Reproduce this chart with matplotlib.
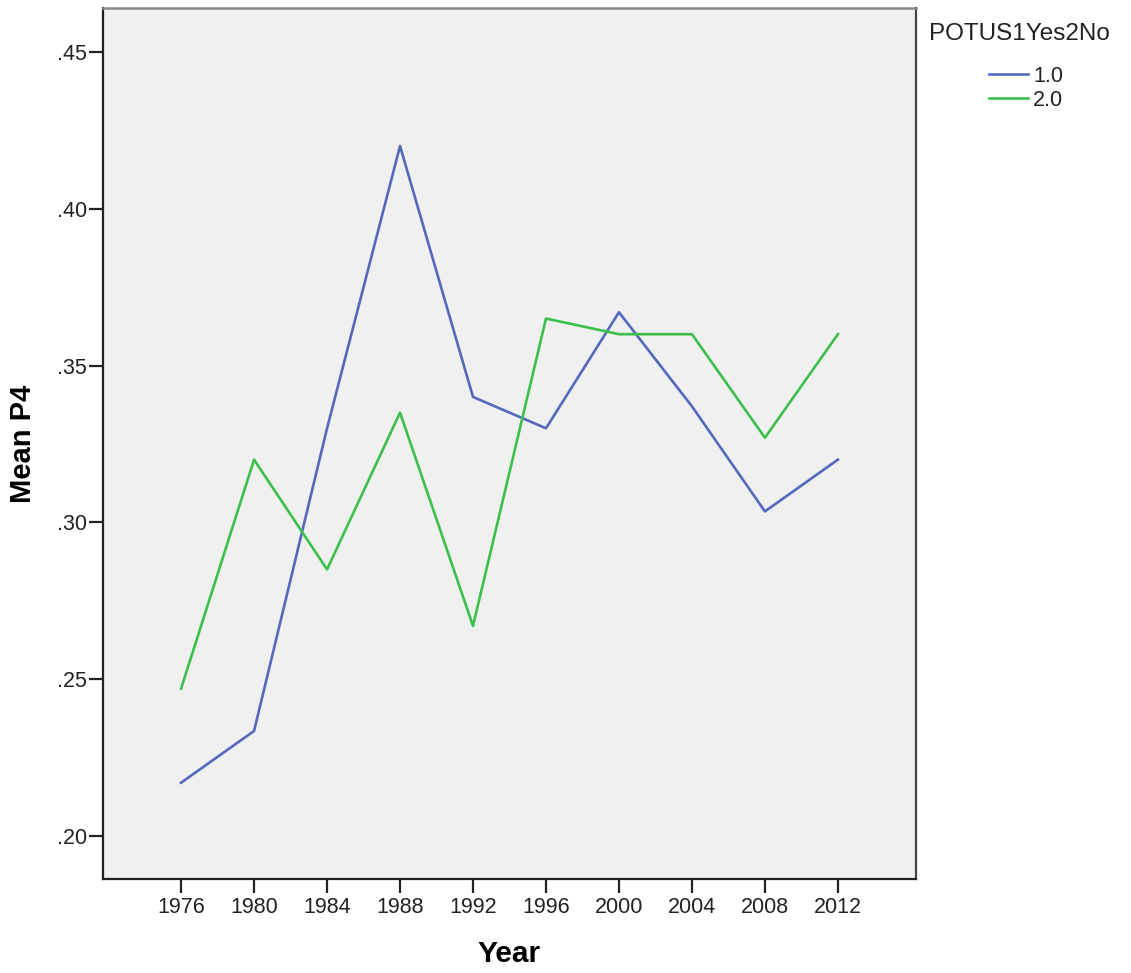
import matplotlib
matplotlib.use('Agg')
import matplotlib.pyplot as plt
from matplotlib.ticker import FuncFormatter

plt.rcParams['font.family'] = ['Liberation Sans', 'DejaVu Sans']

years = ['1976', '1980', '1984', '1988', '1992', '1996', '2000', '2004', '2008', '2012']
potus_yes = [0.217, 0.2335, 0.330, 0.420, 0.340, 0.330, 0.367, 0.337, 0.3035, 0.320]
potus_no = [0.247, 0.320, 0.285, 0.335, 0.267, 0.365, 0.360, 0.360, 0.327, 0.360]
series_labels = ['1.0', '2.0']
y_ticks = [0.20, 0.25, 0.30, 0.35, 0.40, 0.45]

BLUE = '#5468BE'
GREEN = '#3CC04B'
INK = '#222222'

fig = plt.figure(figsize=(11.31, 9.73), dpi=100)
ax = fig.add_axes([103 / 1131, 1 - 879 / 973, (916 - 103) / 1131, (879 - 8) / 973])
ax.set_facecolor('#F0F0F0')

xs = list(range(len(years)))
l1, = ax.plot(xs, potus_yes, color=BLUE, lw=1.9)
l2, = ax.plot(xs, potus_no, color=GREEN, lw=1.9)

ax.set_xlim(-1.07, 10.07)
ax.set_ylim(0.1863, 0.464)
ax.set_xticks(xs)
ax.set_xticklabels(years)
ax.set_yticks(y_ticks)
ax.yaxis.set_major_formatter(FuncFormatter(lambda v, p: ('%.2f' % v).lstrip('0')))

ax.tick_params(axis='both', direction='out', length=10, width=1.6,
               labelsize=15.5, colors=INK, pad=1.5)
ax.tick_params(axis='x', pad=3)

for side in ('left', 'bottom'):
    ax.spines[side].set_color(INK)
    ax.spines[side].set_linewidth(1.6)
ax.spines['top'].set_color('#888888')
ax.spines['top'].set_linewidth(1.8)
ax.spines['right'].set_color('#444444')
ax.spines['right'].set_linewidth(1.6)

ax.set_xlabel('Year', fontsize=21.5, fontweight='bold', labelpad=16)
ax.set_ylabel('Mean P4', fontsize=21, fontweight='bold', labelpad=14)

# legend: title as plain text, entries centred below it
fig.text(929 / 1131, 1 - 34 / 973, 'POTUS1Yes2No', fontsize=17.5, color=INK,
         ha='left', va='center')
leg = fig.legend([l1, l2], series_labels,
                 loc='upper left', bbox_to_anchor=(989 / 1131, 1 - 66 / 973),
                 frameon=False, fontsize=15.5,
                 handlelength=1.8, handletextpad=0.25, labelspacing=0.12,
                 borderaxespad=0, borderpad=0)
for t in leg.get_texts():
    t.set_color(INK)

fig.savefig('out.png', dpi=100)
